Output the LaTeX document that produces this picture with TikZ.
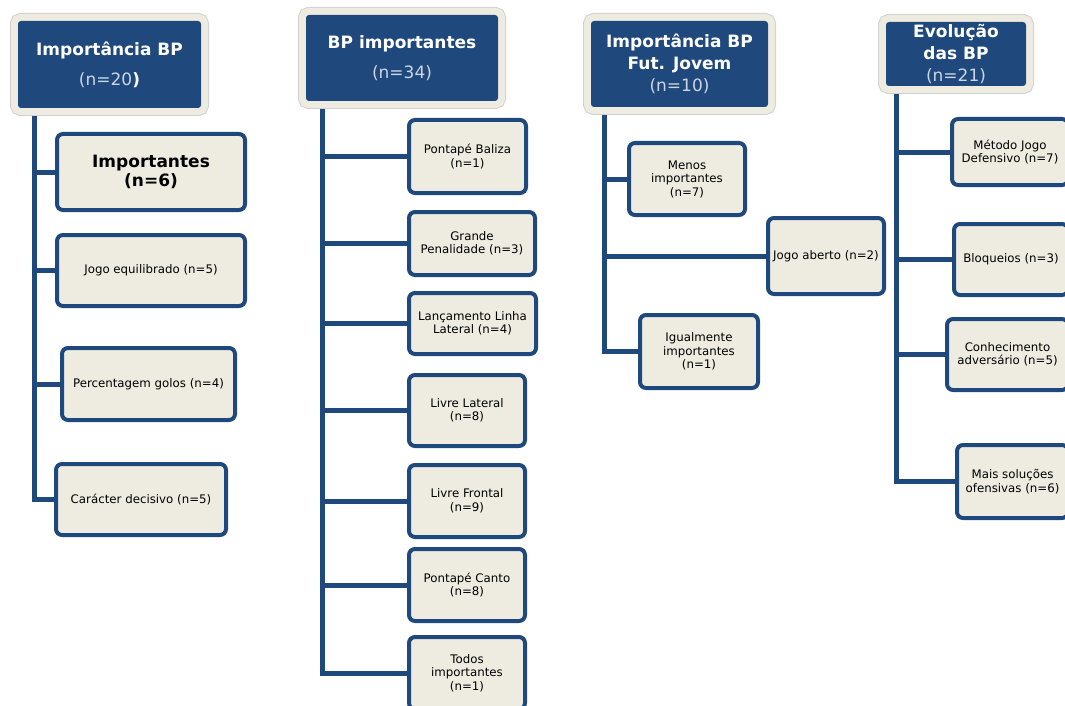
\documentclass[tikz,border=0pt]{standalone}
\usepackage{fontspec}
\setmainfont{DejaVu Sans}
\usepackage{tikz}
\usetikzlibrary{calc,positioning,backgrounds}
\definecolor{bpBlue}{RGB}{31,73,125}
\definecolor{bpCream}{RGB}{238,236,225}
\definecolor{bpPale}{RGB}{205,214,228}

\begin{document}
\begin{tikzpicture}[x=1pt,y=-1pt,
  head/.style={fill=bpBlue, text=white, rounded corners=3pt, align=center,
    preaction={draw=black!18, line width=16pt},
    preaction={draw=bpCream, line width=14pt},
    font=\fontsize{17}{22}\selectfont\bfseries, inner sep=0pt},
  leaf/.style={draw=bpBlue, fill=bpCream, line width=4pt, rounded corners=6pt,
    align=center, inner sep=0pt, font=\fontsize{11.8}{13.5}\selectfont},
  link/.style={draw=bpBlue, line width=5pt}]
\useasboundingbox (0,0) rectangle (1065,706);
\clip (0,0) rectangle (1065,706);

\node[head, minimum width=183pt, minimum height=87pt] (impBP) at (109.5,64.5)
  {Importância BP\\[8pt]{\mdseries\color{bpPale}(n=20}\textbf{)}};
\node[head, minimum width=192pt, minimum height=86pt] (bpImp) at (402,58)
  {BP importantes\\[8pt]{\mdseries\color{bpPale}(n=34)}};
\node[head, minimum width=177pt, minimum height=86pt] (impJov) at (679.5,64)
  {Importância BP\\Fut. Jovem\\{\mdseries\color{bpPale}(n=10)}};
\node[head, minimum width=140pt, minimum height=64pt] (evol) at (956,54)
  {Evolução\\das BP\\{\mdseries\color{bpPale}(n=21)}};

\node[leaf, minimum width=188pt, minimum height=76pt, font=\fontsize{17}{19}\selectfont\bfseries] (a1) at (151,172) {Importantes\\(n=6)};
\node[leaf, minimum width=188pt, minimum height=71pt] (a2) at (151,270.5) {Jogo equilibrado (n=5)};
\node[leaf, minimum width=173pt, minimum height=72pt] (a3) at (148.5,384) {Percentagem golos (n=4)};
\node[leaf, minimum width=170pt, minimum height=71pt] (a4) at (141,499.5) {Carácter decisivo (n=5)};

\node[leaf, minimum width=117pt, minimum height=73pt] (b1) at (467.5,156.5) {Pontapé Baliza\\(n=1)};
\node[leaf, minimum width=126pt, minimum height=63pt] (b2) at (472,243.5) {Grande\\Penalidade (n=3)};
\node[leaf, minimum width=127pt, minimum height=61pt] (b3) at (472.5,323.5) {Lançamento Linha\\Lateral (n=4)};
\node[leaf, minimum width=116pt, minimum height=71pt] (b4) at (467,410.5) {Livre Lateral\\(n=8)};
\node[leaf, minimum width=116pt, minimum height=72pt] (b5) at (467,501) {Livre Frontal\\(n=9)};
\node[leaf, minimum width=116pt, minimum height=72pt] (b6) at (467,585) {Pontapé Canto\\(n=8)};
\node[leaf, minimum width=116pt, minimum height=72pt] (b7) at (467,673) {Todos\\importantes\\(n=1)};

\node[leaf, minimum width=116pt, minimum height=72pt] (c1) at (687,179) {Menos\\importantes\\(n=7)};
\node[leaf, minimum width=116pt, minimum height=76pt] (c2) at (826,256) {Jogo aberto (n=2)};
\node[leaf, minimum width=118pt, minimum height=73pt] (c3) at (699,351.5) {Igualmente\\importantes\\(n=1)};

\node[leaf, minimum width=116pt, minimum height=66pt] (d1) at (1010,152) {Método Jogo\\Defensivo (n=7)};
\node[leaf, minimum width=114pt, minimum height=71pt] (d2) at (1011,259.5) {Bloqueios (n=3)};
\node[leaf, minimum width=121pt, minimum height=71pt] (d3) at (1007.5,354.5) {Conhecimento\\adversário (n=5)};
\node[leaf, minimum width=111pt, minimum height=73pt] (d4) at (1012.5,481.5) {Mais soluções\\ofensivas (n=6)};

\coordinate (t1) at ([xshift=17pt]impBP.south west);
\coordinate (t2) at ([xshift=17pt]bpImp.south west);
\coordinate (t3) at ([xshift=14pt]impJov.south west);
\coordinate (t4) at ([xshift=11pt]evol.south west);

\begin{scope}[on background layer]
\foreach \c in {a1,a2,a3,a4}{\draw[link] (t1) |- (\c.west);}
\foreach \c in {b1,b2,b3,b4,b5,b6,b7}{\draw[link] (t2) |- (\c.west);}
\foreach \c in {c1,c2,c3}{\draw[link] (t3) |- (\c.west);}
\foreach \c in {d1,d2,d3,d4}{\draw[link] (t4) |- (\c.west);}
\end{scope}
\end{tikzpicture}
\end{document}
